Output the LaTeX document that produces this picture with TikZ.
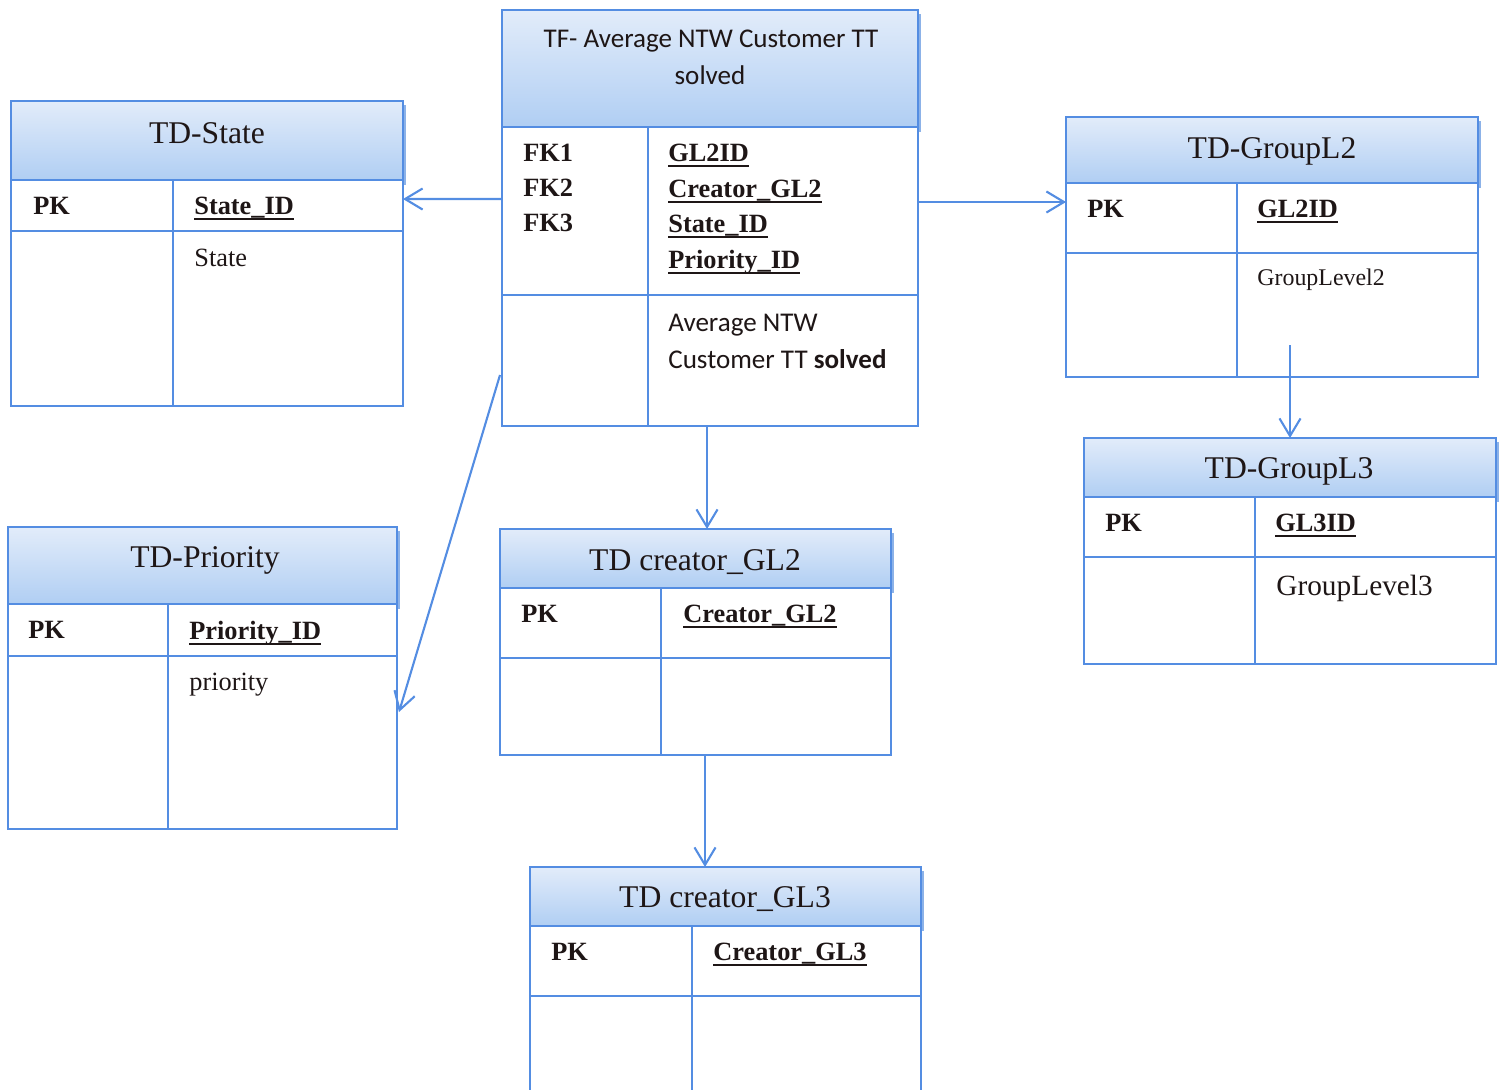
\documentclass[tikz,border=0pt]{standalone}
\usepackage{fontspec}
\setmainfont{Liberation Serif}
\newfontfamily\calib{Carlito}
\usetikzlibrary{arrows.meta,fit,calc}
\definecolor{lineblue}{RGB}{84,141,226}
\definecolor{hdrtop}{RGB}{226,236,250}
\definecolor{hdrmid}{RGB}{244,247,253}
\definecolor{hdrbot}{RGB}{176,206,243}
\definecolor{hdrshade}{RGB}{140,178,232}
\definecolor{inkc}{RGB}{30,22,22}
\newcommand\thul[1]{\leavevmode\setbox0=\hbox{#1}\rlap{\copy0}\rule[-3.4pt]{\wd0}{1.3pt}}
\tikzset{
  tblbox/.style={draw=lineblue, line width=1.1pt, inner sep=0pt, outer sep=0pt},
  tline/.style={draw=lineblue, line width=1.1pt},
  arr/.style={draw=lineblue, line width=1.2pt, -{Straight Barb[length=10pt,width=12pt]}},
  ttl/.style={anchor=base, inner sep=0pt, text=inkc, font=\fontsize{18}{20}\selectfont},
  keyt/.style={anchor=base west, inner sep=0pt, text=inkc, font=\fontsize{15}{17}\selectfont\bfseries},
  fld/.style={anchor=base west, inner sep=0pt, text=inkc, font=\fontsize{15}{17}\selectfont},
  cal/.style={inner sep=0pt, text=inkc, font=\calib\fontsize{15.4}{18}\selectfont}
}
% name, x1, y1, x2, y2, header bottom, divider x, row line y
\newcommand{\erbox}[8]{%
  \coordinate (#1-nw) at (#2,#3);
  \coordinate (#1-se) at (#4,#5);
  \fill[hdrshade] (#4-1,#3+4) rectangle (#4+3,#6+5);
  \shade[top color=hdrtop, middle color=hdrmid, bottom color=hdrbot] (#2,#3) rectangle (#4,#6);
  \node[tblbox, fit=(#1-nw)(#1-se)] (#1) {};
  \draw[tline] (#2,#6) -- (#4,#6) (#2,#8) -- (#4,#8) (#7,#6) -- (#7,#5);
}
\begin{document}
\begin{tikzpicture}[x=0.02cm, y=-0.02cm]
\useasboundingbox (0,0) rectangle (1500,1089);
\clip (0,0) rectangle (1500,1089);

% TD-State
\erbox{state}{11}{101}{403}{406}{180}{173}{231}
\node[ttl] (stateT) at (207,143) {TD-State};
\node[keyt] (statePK) at (33,214) {PK};
\node[keyt] (stateID) at (194,214) {\thul{State\_ID}};
\node[fld] (stateF) at (194,266) {State};

% TF table
\erbox{tf}{502}{10}{918}{426}{127}{648}{295}
\node[cal, anchor=base] (tfT1) at (711,47) {TF- Average NTW Customer TT};
\node[cal, anchor=base] (tfT2) at (710,84) {solved};
\node[keyt] (fk1) at (523,161) {FK1};
\node[keyt] (fk2) at (523,196) {FK2};
\node[keyt] (fk3) at (523,231) {FK3};
\node[keyt] (tf1) at (668,161) {\thul{GL2ID}};
\node[keyt] (tf2) at (668,197) {\thul{Creator\_GL2}};
\node[keyt] (tf3) at (668,232) {\thul{State\_ID}};
\node[keyt] (tf4) at (668,268) {\thul{Priority\_ID}};
\node[cal, anchor=base west] (tfm1) at (668,331) {Average NTW};
\node[cal, anchor=base west] (tfm2) at (668,368) {Customer TT \textbf{solved}};

% TD-GroupL2
\erbox{gl2}{1066}{117}{1478}{377}{183}{1237}{253}
\node[ttl] (gl2T) at (1272,158) {TD-GroupL2};
\node[keyt] (gl2PK) at (1087,217) {PK};
\node[keyt] (gl2ID) at (1257,217) {\thul{GL2ID}};
\node[fld, font=\fontsize{13.6}{16}\selectfont] (gl2F) at (1257,285) {GroupLevel2};

% TD-GroupL3
\erbox{gl3}{1084}{438}{1496}{664}{497}{1255}{557}
\node[ttl] (gl3T) at (1289,478) {TD-GroupL3};
\node[keyt] (gl3PK) at (1105,531) {PK};
\node[keyt] (gl3ID) at (1275,531) {\thul{GL3ID}};
\node[fld, font=\fontsize{16.7}{19}\selectfont] (gl3F) at (1276,595) {GroupLevel3};

% TD-Priority
\erbox{prio}{8}{527}{397}{829}{604}{168}{656}
\node[ttl] (prioT) at (205,567) {TD-Priority};
\node[keyt] (prioPK) at (28,638) {PK};
\node[keyt] (prioID) at (189,639) {\thul{Priority\_ID}};
\node[fld] (prioF) at (189,690) {priority};

% TD creator_GL2
\erbox{cg2}{500}{529}{891}{755}{588}{661}{658}
\node[ttl] (cg2T) at (695,570) {TD creator\_GL2};
\node[keyt] (cg2PK) at (521,622) {PK};
\node[keyt] (cg2ID) at (683,622) {\thul{Creator\_GL2}};

% TD creator_GL3
\erbox{cg3}{530}{867}{921}{1100}{926}{692}{996}
\node[ttl] (cg3T) at (725,907) {TD creator\_GL3};
\node[keyt] (cg3PK) at (551,960) {PK};
\node[keyt] (cg3ID) at (713,960) {\thul{Creator\_GL3}};

% connectors
\draw[arr] ($(tf.north west)+(0,189)$) -- ($(state.north east)+(0,98)$);
\draw[arr] ($(tf.north east)+(0,192)$) -- ($(gl2.north west)+(0,85)$);
\draw[arr] ($(tf.south west)+(205,0)$) -- ($(cg2.north west)+(207,0)$);
\draw[arr] ($(tf.north west)+(-2,365)$) -- ($(prio.north east)+(2,185)$);
\draw[arr] ($(gl2.south west)+(224,-32)$) -- ($(gl3.north west)+(206,0)$);
\draw[arr] ($(cg2.south west)+(205,0)$) -- ($(cg3.north west)+(175,0)$);
\end{tikzpicture}
\end{document}
